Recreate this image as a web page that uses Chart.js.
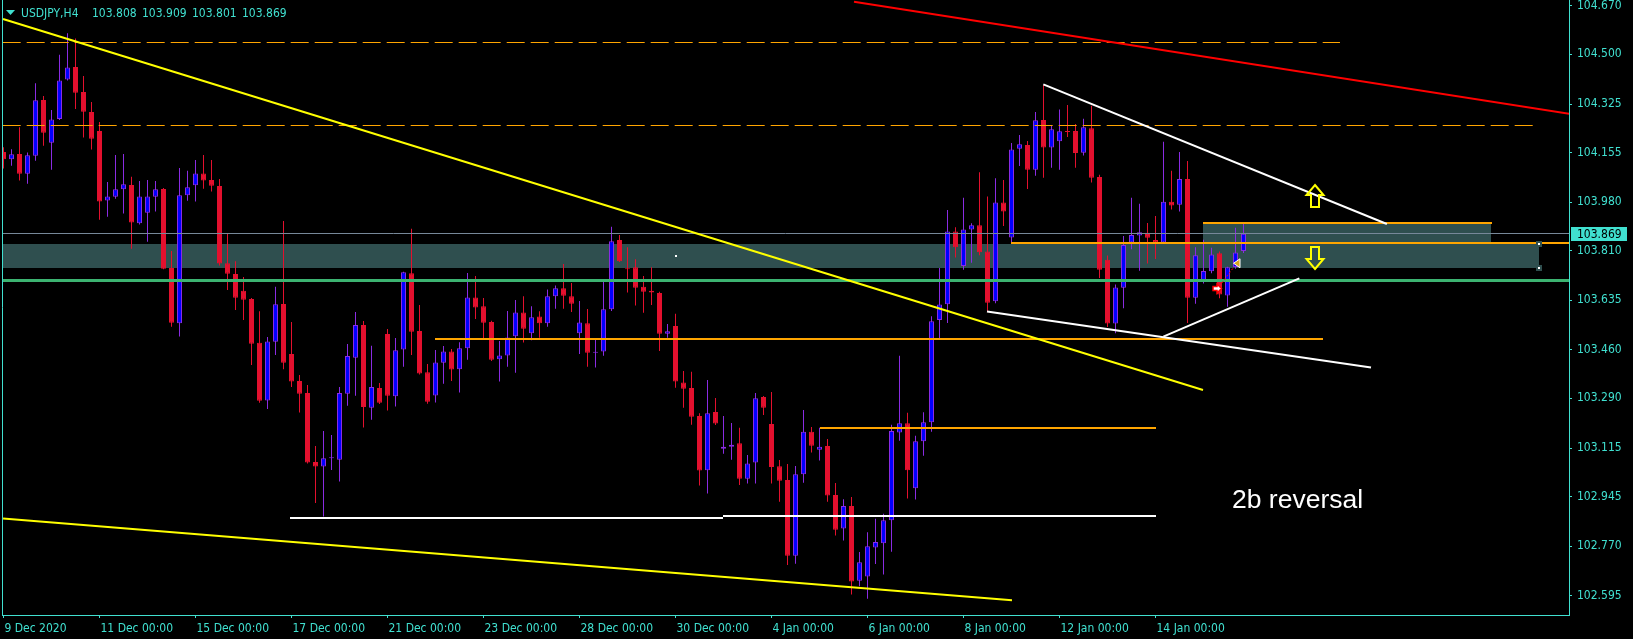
<!DOCTYPE html>
<html>
<head>
<meta charset="utf-8">
<title>USDJPY,H4</title>
<script src="https://cdn.jsdelivr.net/npm/chart.js@4.4.1/dist/chart.umd.min.js"></script>
<style>
html,body{margin:0;padding:0;background:#000;overflow:hidden;}
canvas{display:block;}
</style>
</head>
<body>
<canvas id="chart" width="1633" height="639"></canvas>
<script>
// ---------------- DATA ----------------
const symbolName = 'USDJPY,H4';

const opens = [
104.156,104.131,104.149,104.080,104.143,104.339,104.189,104.272,104.411,104.455,
104.367,104.297,104.230,103.986,103.999,104.025,104.040,103.906,103.943,103.999,
104.026,103.748,103.554,104.004,104.039,104.081,104.058,104.037,103.765,103.727,
103.668,103.639,103.485,103.282,103.489,103.622,103.446,103.351,103.309,103.066,
103.050,103.079,103.074,103.306,103.433,103.548,103.257,103.326,103.516,103.297,
103.462,103.730,103.527,103.382,103.300,103.415,103.455,103.392,103.466,103.645,
103.614,103.558,103.427,103.441,103.508,103.592,103.519,103.578,103.554,103.649,
103.677,103.649,103.519,103.554,103.450,103.455,103.603,103.847,103.747,103.751,
103.682,103.668,103.660,103.517,103.544,103.346,103.326,103.228,103.037,103.242,
103.113,103.120,103.132,103.007,103.064,103.295,103.200,103.051,103.003,102.736,
103.023,103.172,103.109,103.122,102.950,102.832,102.911,102.648,102.663,102.765,
102.780,102.861,103.170,103.202,102.974,103.139,103.206,103.565,103.621,103.877,
103.755,103.884,103.899,103.806,103.631,103.979,103.856,104.168,104.181,104.094,
104.269,104.172,104.194,104.230,104.230,104.154,104.240,104.068,103.777,103.553,
103.679,103.838,103.863,103.872,103.847,103.838,103.981,103.971,104.061,103.644,
103.701,103.737,103.800,103.652,103.752,103.808];

const highs = [
104.173,104.166,104.243,104.155,104.398,104.353,104.304,104.498,104.574,104.556,
104.424,104.332,104.262,104.051,104.146,104.149,104.069,104.054,104.058,104.054,
104.030,103.808,104.100,104.090,104.128,104.146,104.128,104.061,103.870,103.772,
103.717,103.643,103.596,103.506,103.682,103.914,103.558,103.372,103.337,103.122,
103.175,103.161,103.330,103.481,103.594,103.562,103.475,103.344,103.534,103.502,
103.735,103.886,103.618,103.411,103.460,103.474,103.463,103.487,103.731,103.720,
103.643,103.563,103.492,103.597,103.636,103.649,103.614,103.596,103.673,103.687,
103.762,103.696,103.632,103.604,103.497,103.703,103.893,103.864,103.821,103.779,
103.720,103.751,103.665,103.551,103.587,103.386,103.383,103.237,103.354,103.291,
103.228,103.203,103.186,103.091,103.309,103.298,103.312,103.073,103.059,103.052,
103.249,103.189,103.186,103.147,102.992,102.935,102.943,102.749,102.819,102.866,
102.884,103.197,103.440,103.239,103.158,103.241,103.579,103.748,103.952,103.892,
103.995,103.906,104.085,104.000,104.064,104.058,104.188,104.216,104.195,104.297,
104.392,104.250,104.306,104.322,104.255,104.273,104.319,104.076,103.792,103.690,
103.861,103.995,103.974,103.907,103.931,104.192,104.090,104.156,104.125,103.821,
103.848,103.820,103.806,103.753,103.890,103.909];

const lows = [
104.098,104.108,104.056,104.045,104.126,104.178,104.094,104.269,104.408,104.308,
104.207,104.165,103.918,103.929,103.992,103.940,103.816,103.901,103.841,103.947,
103.744,103.542,103.507,103.985,103.982,104.027,104.017,103.757,103.671,103.601,
103.565,103.407,103.274,103.252,103.442,103.392,103.330,103.240,103.061,102.922,
102.874,103.038,102.997,103.264,103.299,103.187,103.215,103.270,103.247,103.261,
103.401,103.442,103.374,103.271,103.275,103.341,103.351,103.310,103.426,103.569,
103.500,103.421,103.349,103.401,103.380,103.486,103.494,103.503,103.542,103.605,
103.605,103.594,103.446,103.401,103.398,103.440,103.597,103.769,103.662,103.616,
103.591,103.618,103.456,103.503,103.327,103.257,103.197,102.983,102.955,103.196,
103.095,103.074,102.985,102.990,102.990,103.231,102.990,102.926,102.704,102.708,
102.993,103.099,103.071,102.926,102.807,102.790,102.600,102.629,102.585,102.707,
102.670,102.750,103.141,102.938,102.934,103.088,103.172,103.502,103.555,103.785,
103.742,103.767,103.793,103.595,103.624,103.896,103.834,104.107,104.026,104.073,
104.066,104.101,104.094,104.209,104.101,104.144,104.049,103.713,103.541,103.519,
103.607,103.814,103.739,103.764,103.780,103.835,103.954,103.947,103.555,103.623,
103.694,103.730,103.642,103.612,103.746,103.801];

const closes = [
104.131,104.148,104.080,104.145,104.338,104.224,104.271,104.408,104.454,104.365,
104.298,104.203,103.982,104.000,104.025,104.043,103.908,104.000,104.000,104.025,
103.746,103.556,104.004,104.032,104.081,104.056,104.038,103.764,103.728,103.644,
103.637,103.482,103.281,103.490,103.621,103.415,103.349,103.306,103.064,103.050,
103.079,103.082,103.309,103.439,103.548,103.259,103.330,103.274,103.299,103.459,
103.733,103.524,103.377,103.278,103.416,103.455,103.391,103.466,103.645,103.609,
103.556,103.426,103.441,103.504,103.592,103.535,103.575,103.554,103.649,103.677,
103.651,103.623,103.557,103.450,103.454,103.603,103.842,103.772,103.744,103.679,
103.665,103.662,103.517,103.526,103.349,103.324,103.225,103.036,103.237,103.201,
103.120,103.127,103.007,103.061,103.290,103.257,103.048,103.000,102.736,103.023,
103.172,103.123,103.120,102.948,102.828,102.911,102.646,102.713,102.770,102.785,
102.861,103.175,103.202,103.037,103.139,103.206,103.561,103.620,103.877,103.821,
103.884,103.899,103.804,103.626,103.979,103.947,104.165,104.184,104.094,104.268,
104.172,104.236,104.229,104.227,104.153,104.243,104.066,103.742,103.553,103.680,
103.829,103.864,103.874,103.855,103.838,103.981,103.968,104.061,103.644,103.793,
103.738,103.796,103.655,103.751,103.803,103.869];

const xTickIndex = [0,12,24,36,48,60,72,84,96,108,120,132,144];
const xTickLabels = ['9 Dec 2020','11 Dec 00:00','15 Dec 00:00','17 Dec 00:00','21 Dec 00:00',
  '23 Dec 00:00','28 Dec 00:00','30 Dec 00:00','4 Jan 00:00','6 Jan 00:00','8 Jan 00:00',
  '12 Jan 00:00','14 Jan 00:00'];
const yTickValues = [104.670,104.500,104.325,104.155,103.980,103.810,103.635,103.460,103.290,103.115,102.945,102.770,102.595];
const yTickLabels = ['104.670','104.500','104.325','104.155','103.980','103.810','103.635','103.460','103.290','103.115','102.945','102.770','102.595'];
const bidPrice = 103.869;

// Chart objects anchored in data coordinates: [bar index, price]
const zoneRects = [
  {from:-0.1, to:191.94, top:103.834, bottom:103.749, handles:true},
  {from:149.98, to:185.94, top:103.908, bottom:103.749, handles:false}
];
const dashedLevels = [
  {from:-0.1, to:167.06, price:104.542},
  {from:-0.1, to:191.19, price:104.250}
];
const levelLines = [
  {style:'orange', from:53.94, to:164.94, price:103.500},
  {style:'orange', from:102.06, to:144.06, price:103.187},
  {style:'orange', from:125.94, to:196.5, price:103.835},
  {style:'orange', from:149.98, to:186.06, price:103.908},
  {style:'white', from:35.81, to:89.94, price:102.870},
  {style:'white', from:89.94, to:144.06, price:102.875},
  {style:'green', from:-1, to:197, price:103.705},
  {style:'bid', from:-1, to:197, price:bidPrice}
];
const trendLines = [
  {style:'red', a:[106.31,104.685], b:[196.2,104.289]},
  {style:'yellow', a:[-0.06,104.624], b:[149.94,103.319]},
  {style:'yellow', a:[-0.06,102.867], b:[126.06,102.580]},
  {style:'white', a:[129.98,104.394], b:[172.92,103.903]},
  {style:'white', a:[122.94,103.595], b:[170.94,103.398]},
  {style:'white', a:[144.98,103.507], b:[161.98,103.712]}
];
const arrowMarks = [
  {kind:'up', at:[163.98,104.040]},
  {kind:'down', at:[163.98,103.744]}
];
const tradeMarks = {
  entry:[151.69,103.676], exit:[154.19,103.765],
  path:[[152.31,103.696],[153.69,103.748]], dot:[83.94,103.795]
};
const noteText = {text:'2b reversal', at:[153.56,102.904]};

// ---------------- STYLE ----------------
const AX = '#40E0D0';
const BULL_FILL = '#0000FF', BULL_LINE = '#8A2BE2';
const BEAR_FILL = '#E3102E', BEAR_LINE = '#E3102E';
const STYLES = {
  orange:{color:'#FFA500', width:2},
  white:{color:'#FFFFFF', width:2},
  green:{color:'#3CB371', width:3},
  bid:{color:'#778899', width:1},
  red:{color:'#FF0000', width:2},
  yellow:{color:'#FFFF00', width:2}
};

function hasFont(name){
  const c = document.createElement('canvas').getContext('2d');
  c.font = '40px monospace';
  const a = c.measureText('104.670 Dec 00:00').width;
  c.font = '40px "' + name + '", monospace';
  const b = c.measureText('104.670 Dec 00:00').width;
  return Math.abs(a - b) > 0.5;
}
const condensed = hasFont('DejaVu Sans Condensed');
const AXIS_FAMILY = condensed ? '"DejaVu Sans Condensed"' : '"DejaVu Sans"';
const AXIS_SIZE = condensed ? 12 : 11;
const AXIS_FONT = AXIS_SIZE + 'px ' + AXIS_FAMILY;

// ---------------- BUILD ----------------
const idx = opens.map((_, i) => i);
const bull = idx.map(i => closes[i] >= opens[i]);
const bodyData = idx.map(i => ({x:i, y:[Math.min(opens[i], closes[i]), Math.max(opens[i], closes[i])]}));
const wickData = idx.map(i => ({x:i, y:[lows[i], highs[i]]}));

const X_MIN = -0.1875, X_MAX = 195.6875;
const Y_MAX = 104.691, Y_MIN = 104.691 - 615 / 284.3;

function P(chart, pt){ return [chart.scales.x.getPixelForValue(pt[0]), chart.scales.y.getPixelForValue(pt[1])]; }
function snap(v, w){ return (w % 2 === 1) ? Math.floor(v) + 0.5 : Math.round(v); }

const overlay = {
  id:'overlay',
  beforeDraw(chart){
    const c = chart.ctx; c.save(); c.fillStyle = '#000'; c.fillRect(0, 0, chart.width, chart.height); c.restore();
  },
  beforeDatasetsDraw(chart){
    const c = chart.ctx, ca = chart.chartArea;
    c.save();
    c.beginPath(); c.rect(ca.left, ca.top, ca.right - ca.left, ca.bottom - ca.top); c.clip();
    c.fillStyle = '#2F4F4F';
    zoneRects.forEach(r => {
      const [x1, y1] = P(chart, [r.from, r.top]);
      const [x2, y2] = P(chart, [r.to, r.bottom]);
      c.fillRect(Math.round(x1), Math.round(y1), Math.round(x2) - Math.round(x1), Math.round(y2) - Math.round(y1));
    });
    c.restore();
  },
  afterDatasetsDraw(chart){
    const c = chart.ctx, ca = chart.chartArea;
    c.save();
    c.beginPath(); c.rect(ca.left, ca.top, ca.right - ca.left, ca.bottom - ca.top); c.clip();
    // dashed levels
    c.strokeStyle = '#FFA500'; c.lineWidth = 1; c.setLineDash([18, 6]);
    dashedLevels.forEach(d => {
      const [x1, y] = P(chart, [d.from, d.price]);
      const [x2] = P(chart, [d.to, d.price]);
      const yy = snap(y, 1);
      c.beginPath(); c.moveTo(x1, yy); c.lineTo(x2, yy); c.stroke();
    });
    c.setLineDash([]);
    // horizontal levels
    levelLines.forEach(l => {
      const s = STYLES[l.style];
      const [x1, y] = P(chart, [l.from, l.price]);
      const [x2] = P(chart, [l.to, l.price]);
      const yy = snap(y, s.width);
      c.strokeStyle = s.color; c.lineWidth = s.width;
      c.beginPath(); c.moveTo(Math.round(x1), yy); c.lineTo(Math.round(x2), yy); c.stroke();
    });
    // trend lines
    trendLines.forEach(t => {
      const s = STYLES[t.style];
      const [x1, y1] = P(chart, t.a);
      const [x2, y2] = P(chart, t.b);
      c.strokeStyle = s.color; c.lineWidth = s.width;
      c.beginPath(); c.moveTo(x1, y1); c.lineTo(x2, y2); c.stroke();
    });
    // zone handles
    zoneRects.filter(r => r.handles).forEach(r => {
      [r.top, r.bottom].forEach(p => {
        const [x, y] = P(chart, [r.to, p]);
        c.fillStyle = '#2F4F4F'; c.fillRect(Math.round(x) - 3, Math.round(y) - 3, 6, 6);
        c.fillStyle = '#FFFFFF'; c.fillRect(Math.round(x) - 1, Math.round(y) - 1, 2, 2);
      });
    });
    // hollow arrows
    c.strokeStyle = '#FFFF00'; c.lineWidth = 2; c.lineJoin = 'miter';
    arrowMarks.forEach(a => {
      const [cx0, ty0] = P(chart, a.at);
      const cx = Math.round(cx0), ty = Math.round(ty0);
      const d = a.kind === 'up' ? 1 : -1;
      c.beginPath();
      c.moveTo(cx, ty);
      c.lineTo(cx + 8.5, ty + d * 10);
      c.lineTo(cx + 4, ty + d * 10);
      c.lineTo(cx + 4, ty + d * 22);
      c.lineTo(cx - 4, ty + d * 22);
      c.lineTo(cx - 4, ty + d * 10);
      c.lineTo(cx - 8.5, ty + d * 10);
      c.closePath();
      c.stroke();
    });
    // trade marks
    const [px1, py1] = P(chart, tradeMarks.path[0]);
    const [px2, py2] = P(chart, tradeMarks.path[1]);
    c.strokeStyle = '#FF0000'; c.lineWidth = 1; c.setLineDash([2, 2]);
    c.beginPath(); c.moveTo(px1, py1); c.lineTo(px2, py2); c.stroke();
    c.setLineDash([]);
    {
      const [ex, ey] = P(chart, tradeMarks.entry);
      c.beginPath();
      c.moveTo(ex - 4, ey - 2); c.lineTo(ex, ey - 2); c.lineTo(ex, ey - 4.5); c.lineTo(ex + 4.5, ey);
      c.lineTo(ex, ey + 4.5); c.lineTo(ex, ey + 2); c.lineTo(ex - 4, ey + 2); c.closePath();
      c.fillStyle = '#FFFFFF'; c.fill(); c.strokeStyle = '#FF0000'; c.lineWidth = 1.5; c.stroke();
      const [qx, qy] = P(chart, tradeMarks.exit);
      c.beginPath(); c.moveTo(qx + 3, qy - 4.5); c.lineTo(qx + 3, qy + 4.5); c.lineTo(qx - 3.5, qy); c.closePath();
      c.fillStyle = '#DAA520'; c.fill(); c.strokeStyle = '#FFFFFF'; c.lineWidth = 1; c.stroke();
      const [dx, dy] = P(chart, tradeMarks.dot);
      c.fillStyle = '#FFFFFF'; c.fillRect(Math.round(dx), Math.round(dy), 2, 2);
    }
    // note text
    {
      const [tx, ty] = P(chart, noteText.at);
      c.fillStyle = '#FFFFFF'; c.font = '26.5px "Liberation Sans", Arial, sans-serif';
      c.textBaseline = 'alphabetic'; c.textAlign = 'left';
      c.fillText(noteText.text, Math.round(tx), Math.round(ty));
    }
    c.restore();
  },
  afterDraw(chart){
    const c = chart.ctx, ca = chart.chartArea;
    c.save();
    // left frame line
    c.strokeStyle = AX; c.lineWidth = 1;
    c.beginPath(); c.moveTo(ca.left + 0.5, 0); c.lineTo(ca.left + 0.5, ca.bottom + 0.5); c.stroke();
    // header
    c.fillStyle = AX;
    c.beginPath(); c.moveTo(6, 10); c.lineTo(15, 10); c.lineTo(10.5, 15); c.closePath(); c.fill();
    c.font = AXIS_FONT; c.textBaseline = 'alphabetic'; c.textAlign = 'left';
    c.fillText(symbolName, 21, 17);
    const last = opens.length - 1;
    [opens[last], highs[last], lows[last], closes[last]].forEach((v, i) => {
      c.fillText(v.toFixed(3), 92 + 50 * i, 17);
    });
    // bid price label
    const y = Math.round(chart.scales.y.getPixelForValue(bidPrice));
    c.fillStyle = AX; c.fillRect(1571, y - 7, 56, 14);
    c.fillStyle = '#000'; c.textBaseline = 'middle';
    c.fillText(bidPrice.toFixed(3), 1577, y + 0.5);
    c.restore();
  }
};

const ctx = document.getElementById('chart').getContext('2d');
new Chart(ctx, {
  type:'bar',
  data:{
    datasets:[
      {label:'body', data:bodyData, order:0, grouped:false, barThickness:5, minBarLength:1,
       backgroundColor:bull.map(b => b ? BULL_FILL : BEAR_FILL),
       borderColor:bull.map(b => b ? BULL_LINE : BEAR_LINE),
       borderWidth:1, borderSkipped:false, inflateAmount:0, clip:0},
      {label:'wick', data:wickData, order:1, grouped:false, barThickness:1, minBarLength:1,
       backgroundColor:bull.map(b => b ? BULL_LINE : BEAR_LINE),
       borderWidth:0, inflateAmount:0, clip:0}
    ]
  },
  options:{
    responsive:false, animation:false, devicePixelRatio:1,
    events:[],
    layout:{padding:{left:2, top:0, right:0, bottom:0}},
    plugins:{legend:{display:false}, tooltip:{enabled:false}, title:{display:false}},
    scales:{
      x:{
        type:'linear', min:X_MIN, max:X_MAX, bounds:'data', offset:false,
        grid:{display:true, drawOnChartArea:false, drawTicks:true, tickLength:3, color:AX, offset:false},
        border:{display:true, color:AX, width:1},
        ticks:{color:AX, font:{family:AXIS_FAMILY, size:AXIS_SIZE}, align:'start', labelOffset:1,
               padding:4, autoSkip:false, maxRotation:0, minRotation:0,
               callback:(v, i) => xTickLabels[i]},
        afterBuildTicks(scale){ scale.ticks = xTickIndex.map(v => ({value:v})); },
        afterFit(scale){ scale.height = 24; scale.paddingLeft = 0; scale.paddingRight = 0; }
      },
      y:{
        type:'linear', position:'right', min:Y_MIN, max:Y_MAX, bounds:'data',
        grid:{display:true, drawOnChartArea:false, drawTicks:true, tickLength:3, color:AX},
        border:{display:true, color:AX, width:1},
        ticks:{color:AX, font:{family:AXIS_FAMILY, size:AXIS_SIZE}, padding:5, autoSkip:false,
               callback:(v, i) => yTickLabels[i]},
        afterBuildTicks(scale){ scale.ticks = yTickValues.map(v => ({value:v})); },
        afterFit(scale){ scale.width = 64; scale.paddingTop = 0; scale.paddingBottom = 0; }
      }
    }
  },
  plugins:[overlay]
});
</script>
</body>
</html>
